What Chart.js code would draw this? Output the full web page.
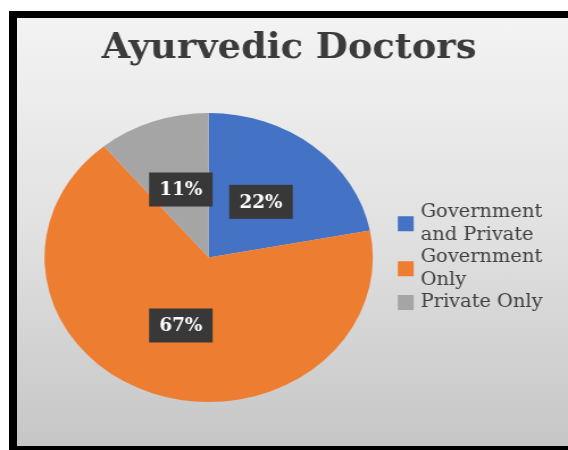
<!DOCTYPE html>
<html>
<head>
<meta charset="utf-8">
<title>Ayurvedic Doctors</title>
<script src="https://cdn.jsdelivr.net/npm/chart.js@4.4.1/dist/chart.umd.min.js"></script>
<style>
  html, body { margin: 0; padding: 0; background: #fff; }
  .frame {
    position: absolute;
    left: 9px;
    top: 11px;
    width: 551px;
    height: 428px;
    border-left: 8px solid #000;
    border-top: 7px solid #000;
    border-bottom: 4px solid #000;
    background: linear-gradient(to bottom, #f3f3f3 0%, #e1e1e1 50%, #c6c6c6 100%);
  }
  canvas { display: block; }
</style>
</head>
<body>
<div class="frame">
  <!-- drawn narrower and stretched sideways, so the pie comes out oval -->
  <canvas id="pieChart" width="485" height="428" style="width:551px;height:428px"></canvas>
</div>
<script>
const chartTitle = 'Ayurvedic Doctors';
const categories = [['Government', 'and Private'], ['Government', 'Only'], ['Private Only']];
const shares = [22, 67, 11];
const sliceColors = ['#4472C4', '#ED7D31', '#A5A5A5'];

const serif = '"DejaVu Serif Condensed", "DejaVu Serif", serif';

// title drawn by hand so it stays centred over the whole canvas
const titlePlugin = {
  id: 'titlePlugin',
  afterDraw(chart) {
    const ctx = chart.ctx;
    ctx.save();
    ctx.font = 'bold 36px ' + serif;
    ctx.fillStyle = '#3b3b3b';
    ctx.textAlign = 'center';
    ctx.textBaseline = 'alphabetic';
    ctx.fillText(chartTitle, chart.width / 2 - 3, 40);
    ctx.restore();
  }
};

// dark boxes with the percentage, halfway out along each slice
const valueBoxes = {
  id: 'valueBoxes',
  afterDatasetsDraw(chart) {
    const ctx = chart.ctx;
    const meta = chart.getDatasetMeta(0);
    ctx.save();
    ctx.font = 'bold 18px ' + serif;
    ctx.textAlign = 'center';
    ctx.textBaseline = 'middle';
    meta.data.forEach((arc, i) => {
      const p = arc.getProps(['x', 'y', 'startAngle', 'endAngle', 'outerRadius'], true);
      const mid = (p.startAngle + p.endAngle) / 2;
      const lx = p.x + Math.cos(mid) * p.outerRadius * 0.5;
      const ly = p.y + Math.sin(mid) * p.outerRadius * 0.5;
      const text = shares[i] + '%';
      const w = ctx.measureText(text).width + 18;
      const h = 34;
      ctx.fillStyle = '#383838';
      ctx.fillRect(lx - w / 2, ly - h / 2, w, h);
      ctx.fillStyle = '#ffffff';
      ctx.fillText(text, lx, ly + 1);
    });
    ctx.restore();
  }
};

// legend with wrapped labels, swatch centred on its lines
const sideLegend = {
  id: 'sideLegend',
  afterDraw(chart) {
    const ctx = chart.ctx;
    const area = chart.chartArea;
    const lineH = 22.5;
    const totalLines = categories.reduce((n, c) => n + c.length, 0);
    const midY = (area.top + area.bottom) / 2;
    let y = midY - (totalLines - 1) * lineH / 2;
    const boxX = area.right + 22;
    const textX = boxX + 20;
    ctx.save();
    ctx.font = '19px ' + serif;
    ctx.textAlign = 'left';
    ctx.textBaseline = 'middle';
    categories.forEach((lines, i) => {
      const centre = y + (lines.length - 1) * lineH / 2;
      ctx.fillStyle = sliceColors[i];
      ctx.fillRect(boxX, centre - 7.5, 14, 15);
      ctx.fillStyle = '#404040';
      lines.forEach((t, j) => ctx.fillText(t, textX, y + j * lineH));
      y += lines.length * lineH;
    });
    ctx.restore();
  }
};

new Chart(document.getElementById('pieChart'), {
  type: 'pie',
  data: {
    labels: categories,
    datasets: [{
      data: shares,
      backgroundColor: sliceColors,
      borderWidth: 0,
      offset: 0,
      hoverOffset: 0
    }]
  },
  options: {
    responsive: false,
    animation: false,
    events: [],
    layout: {
      padding: { top: 95, left: 24.2, right: 171.8, bottom: 44 }
    },
    plugins: {
      legend: { display: false },
      title: { display: false },
      tooltip: { enabled: false }
    }
  },
  plugins: [titlePlugin, valueBoxes, sideLegend]
});
</script>
</body>
</html>
